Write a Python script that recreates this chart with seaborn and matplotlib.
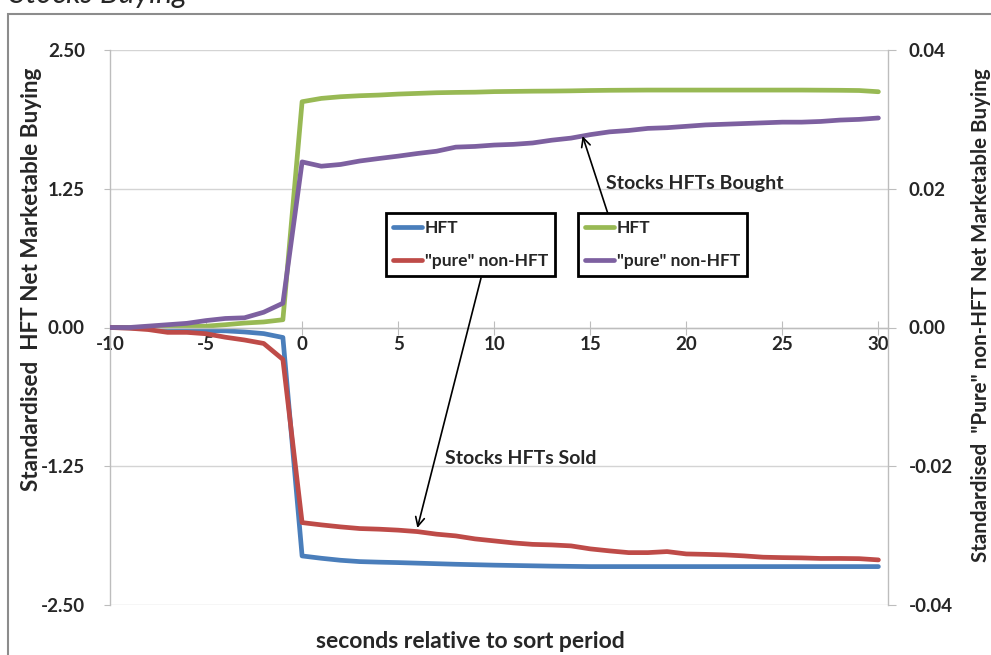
import matplotlib
matplotlib.use("Agg")
import matplotlib.pyplot as plt
from matplotlib.lines import Line2D
from matplotlib.patches import Rectangle
import numpy as np
import pandas as pd
import seaborn as sns

# seconds relative to sort period
seconds = list(range(-10, 31))

# stocks HFTs sold (HFT on left axis, "pure" non-HFT on right axis)
hft_sold = [0.0, -0.003, -0.008, -0.012, -0.018, -0.027, -0.030, -0.040, -0.055, -0.090,
            -2.058, -2.079, -2.097, -2.109, -2.114, -2.118, -2.123, -2.128, -2.133, -2.137,
            -2.141, -2.144, -2.147, -2.150, -2.152, -2.154, -2.154, -2.154, -2.154, -2.154,
            -2.154, -2.154, -2.154, -2.154, -2.154, -2.154, -2.154, -2.154, -2.154, -2.154,
            -2.154]
nonhft_sold = [0.0, -0.0001, -0.0003, -0.0007, -0.0007, -0.0009, -0.0014, -0.0018, -0.0023, -0.0046,
               -0.02812, -0.02845, -0.02874, -0.02898, -0.02907, -0.02921, -0.02942, -0.02979, -0.03004, -0.03047,
               -0.03076, -0.03105, -0.03126, -0.03134, -0.03148, -0.03191, -0.03220, -0.03245, -0.03245, -0.03230,
               -0.03264, -0.03270, -0.03278, -0.03292, -0.03311, -0.03317, -0.03321, -0.03329, -0.03329, -0.03332,
               -0.03350]

# stocks HFTs bought
hft_bought = [0.0, 0.0, 0.003, 0.006, 0.009, 0.012, 0.025, 0.040, 0.050, 0.070,
              2.034, 2.064, 2.079, 2.088, 2.094, 2.103, 2.109, 2.115, 2.118, 2.120,
              2.125, 2.127, 2.129, 2.130, 2.132, 2.135, 2.137, 2.138, 2.139, 2.139,
              2.139, 2.139, 2.139, 2.139, 2.139, 2.139, 2.139, 2.138, 2.137, 2.135,
              2.124]
nonhft_bought = [0.0, 0.0, 0.0002, 0.0004, 0.0006, 0.0010, 0.0013, 0.0014, 0.0022, 0.0035,
                 0.02387, 0.02325, 0.02350, 0.02400, 0.02436, 0.02470, 0.02508, 0.02541, 0.02600, 0.02610,
                 0.02630, 0.02640, 0.02660, 0.02700, 0.02730, 0.02780, 0.02820, 0.02840, 0.02870, 0.02880,
                 0.02900, 0.02920, 0.02930, 0.02940, 0.02950, 0.02960, 0.02960, 0.02970, 0.02990, 0.03000,
                 0.03020]

left_ticks = [-2.5, -1.25, 0.0, 1.25, 2.5]
right_ticks = [-0.04, -0.02, 0.0, 0.02, 0.04]
x_ticks = [-10, -5, 0, 5, 10, 15, 20, 25, 30]

BLUE, RED, GREEN, PURPLE = "#4a7ebb", "#be4b48", "#98b954", "#7d60a0"
GRID = "#d4d4d4"
AXIS = "#bdbdbd"

sns.set_style("white")
plt.rcParams["font.family"] = ["Lato", "DejaVu Sans"]
plt.rcParams["font.weight"] = "bold"

df = pd.DataFrame({"sec": seconds, "hft_sold": hft_sold, "non_sold": nonhft_sold,
                   "hft_bought": hft_bought, "non_bought": nonhft_bought})

fig = plt.figure(figsize=(9.91, 6.55), dpi=100)
ax = fig.add_axes([110 / 991, 1 - 605 / 655, (888 - 110) / 991, (605 - 50) / 655])
ax2 = ax.twinx()

lw = 3.4
sns.lineplot(data=df, x="sec", y="hft_sold", ax=ax, color=BLUE, linewidth=lw, legend=False)
sns.lineplot(data=df, x="sec", y="hft_bought", ax=ax, color=GREEN, linewidth=lw, legend=False)
sns.lineplot(data=df, x="sec", y="non_sold", ax=ax2, color=RED, linewidth=lw, legend=False)
sns.lineplot(data=df, x="sec", y="non_bought", ax=ax2, color=PURPLE, linewidth=lw, legend=False)

ax.set_xlim(-10, 30.5)
ax.set_ylim(-2.5, 2.5)
ax2.set_ylim(-0.04, 0.04)

TICK_FS = 13.5

# left axis
ax.set_yticks(left_ticks)
ax.set_yticklabels([f"{v:.2f}" for v in left_ticks])
ax.yaxis.grid(True, color=GRID, linewidth=1.0)
ax.set_axisbelow(True)
ax.tick_params(axis="y", which="both", left=True, length=4, color=AXIS, pad=14,
               labelsize=TICK_FS)

# x axis crossing at zero
ax.set_xticks(x_ticks)
ax.set_xticklabels([str(v) for v in x_ticks])
ax.spines["bottom"].set_position(("data", 0))
ax.tick_params(axis="x", which="both", bottom=True, direction="inout", length=10,
               color=AXIS, pad=1, labelsize=TICK_FS)
for side in ["top", "right"]:
    ax.spines[side].set_visible(False)
for side in ["left", "bottom"]:
    ax.spines[side].set_color(AXIS)
    ax.spines[side].set_linewidth(1.0)

# right axis
ax2.set_yticks(right_ticks)
ax2.set_yticklabels([f"{v:.2f}" for v in right_ticks])
ax2.tick_params(axis="y", right=True, length=6, color=AXIS, pad=9, labelsize=TICK_FS)
for side in ["top", "left", "bottom"]:
    ax2.spines[side].set_visible(False)
ax2.spines["right"].set_color(AXIS)
ax2.spines["right"].set_linewidth(1.0)

for lab in ax.get_xticklabels() + ax.get_yticklabels() + ax2.get_yticklabels():
    lab.set_fontweight("bold")

ax.set_xlabel("")
ax.set_ylabel("")
ax2.set_ylabel("")

fig.text(470 / 991, 1 - 641 / 655, "seconds relative to sort period",
         ha="center", va="center", fontsize=16.5, fontweight="bold")
fig.text(32 / 991, 1 - 279 / 655, "Standardised  HFT Net Marketable Buying",
         ha="center", va="center", rotation=90, fontsize=16.2, fontweight="bold")
fig.text(981 / 991, 1 - 315 / 655, "Standardised  \"Pure\" non-HFT Net Marketable Buying",
         ha="center", va="center", rotation=90, fontsize=14.8, fontweight="bold")

# title line (runs above the canvas)
fig.text(10 / 991, 1 - 2.5 / 655, "Stocks Buying", ha="left", va="baseline",
         fontsize=22, style="italic", fontweight="normal")

# outer frame
fig.patches.append(Rectangle((8 / 991, -0.1), 1.2, 1.1 - 14 / 655,
                             transform=fig.transFigure, fill=False,
                             edgecolor="#8c8c8c", linewidth=1.5))

# legends
leg_kw = dict(loc="upper left", frameon=True, fancybox=False,
              handlelength=1.7, handletextpad=0.15, labelspacing=1.0,
              borderpad=0.4, borderaxespad=0, bbox_transform=fig.transFigure,
              prop={"weight": "bold", "size": 12.5})
h_sold = [Line2D([], [], color=BLUE, lw=lw), Line2D([], [], color=RED, lw=lw)]
h_bought = [Line2D([], [], color=GREEN, lw=lw), Line2D([], [], color=PURPLE, lw=lw)]
labels = ["HFT", "\"pure\" non-HFT"]

leg1 = ax2.legend(h_sold, labels, bbox_to_anchor=(386 / 991, 1 - 213 / 655), **leg_kw)
ax2.add_artist(leg1)
leg2 = ax2.legend(h_bought, labels, bbox_to_anchor=(578 / 991, 1 - 213 / 655), **leg_kw)
for lg in (leg1, leg2):
    fr = lg.get_frame()
    fr.set_edgecolor("black")
    fr.set_linewidth(2.0)
    fr.set_alpha(1)
    lg.set_zorder(10)

# annotations
arrow = dict(arrowstyle="->", color="black", lw=1.2, mutation_scale=16,
             shrinkA=0, shrinkB=0)
ax2.annotate("", xy=(14.6, 0.0276), xycoords="data",
             xytext=(608 / 991, 1 - 214 / 655), textcoords="figure fraction",
             arrowprops=arrow)
ax2.annotate("", xy=(6.0, -0.0289), xycoords="data",
             xytext=(481 / 991, 1 - 278 / 655), textcoords="figure fraction",
             arrowprops=arrow)
fig.text(695 / 991, 1 - 183 / 655, "Stocks HFTs Bought", ha="center", va="center",
         fontsize=14, fontweight="bold")
fig.text(521 / 991, 1 - 458 / 655, "Stocks HFTs Sold", ha="center", va="center",
         fontsize=14, fontweight="bold")

fig.savefig("out.png", dpi=100)
